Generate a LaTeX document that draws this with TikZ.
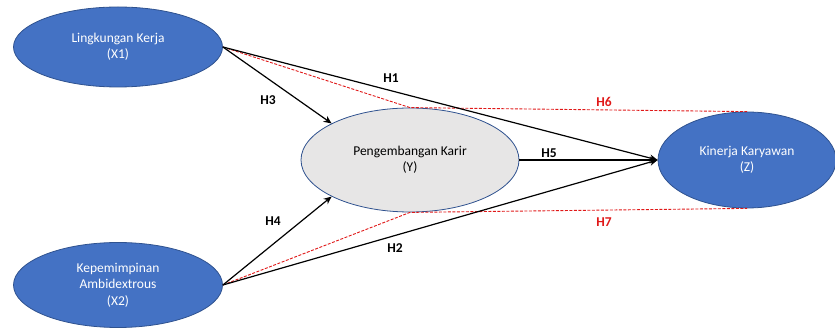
\documentclass[tikz,border=0pt]{standalone}
\usepackage{fontspec}
\setmainfont{Carlito}
\usetikzlibrary{shapes.geometric,arrows.meta}
\definecolor{blueFill}{HTML}{4472C4}
\definecolor{blueLine}{HTML}{2F528F}
\definecolor{greyFill}{HTML}{E7E6E6}
\definecolor{hred}{HTML}{E01818}
\tikzset{
  blueell/.style={ellipse, draw=blueLine, line width=0.8pt, fill=blueFill, text=white, inner sep=0pt, align=center, font=\fontsize{13.5}{16.5}\selectfont},
  greyell/.style={ellipse, draw=blueLine, line width=0.8pt, fill=greyFill, text=black, inner sep=0pt, align=center, font=\fontsize{13.5}{16.5}\selectfont},
  path/.style={draw=black, line width=1.2pt, -{Stealth[length=8pt,width=7pt]}},
  medpath/.style={draw=hred, line width=0.9pt, dash pattern=on 3pt off 1.5pt},
  hlab/.style={font=\bfseries\fontsize{13.5}{15}\selectfont, inner sep=0pt},
  rlab/.style={hlab, text=hred}
}
\begin{document}
\begin{tikzpicture}[x=1pt,y=1pt]
\useasboundingbox (0,0) rectangle (835,329);
\node[blueell, minimum width=209pt, minimum height=80pt] (X1) at (118,282) {Lingkungan Kerja\\(X1)};
\node[blueell, minimum width=209pt, minimum height=85pt] (X2) at (118,44) {Kepemimpinan\\Ambidextrous\\(X2)};
\node[greyell, minimum width=218pt, minimum height=104pt] (Y) at (410,169) {Pengembangan Karir\\(Y)};
\node[blueell, minimum width=178pt, minimum height=96pt] (Z) at (747,169) {Kinerja Karyawan\\(Z)};
% mediation dashed paths
\draw[medpath] (X1.east) -- (Y.north) -- (Z.north);
\draw[medpath] (X2.east) -- (Y.south) -- (Z.south);
% direct paths
\draw[path] (X1.east) -- (Z.west);
\draw[path] (X2.east) -- (Z.west);
\draw[path] (X1.east) -- (Y.155);
\draw[path] (X2.east) -- (Y.205);
\draw[path] (Y.east) -- (Z.west);
% labels
\node[hlab] (h1) at (391,251) {H1};
\node[hlab] (h2) at (395,81) {H2};
\node[hlab] (h3) at (268,229) {H3};
\node[hlab] (h4) at (273,108) {H4};
\node[hlab] (h5) at (549,176) {H5};
\node[rlab] (h6) at (604,227) {H6};
\node[rlab] (h7) at (604,107) {H7};
\end{tikzpicture}
\end{document}
